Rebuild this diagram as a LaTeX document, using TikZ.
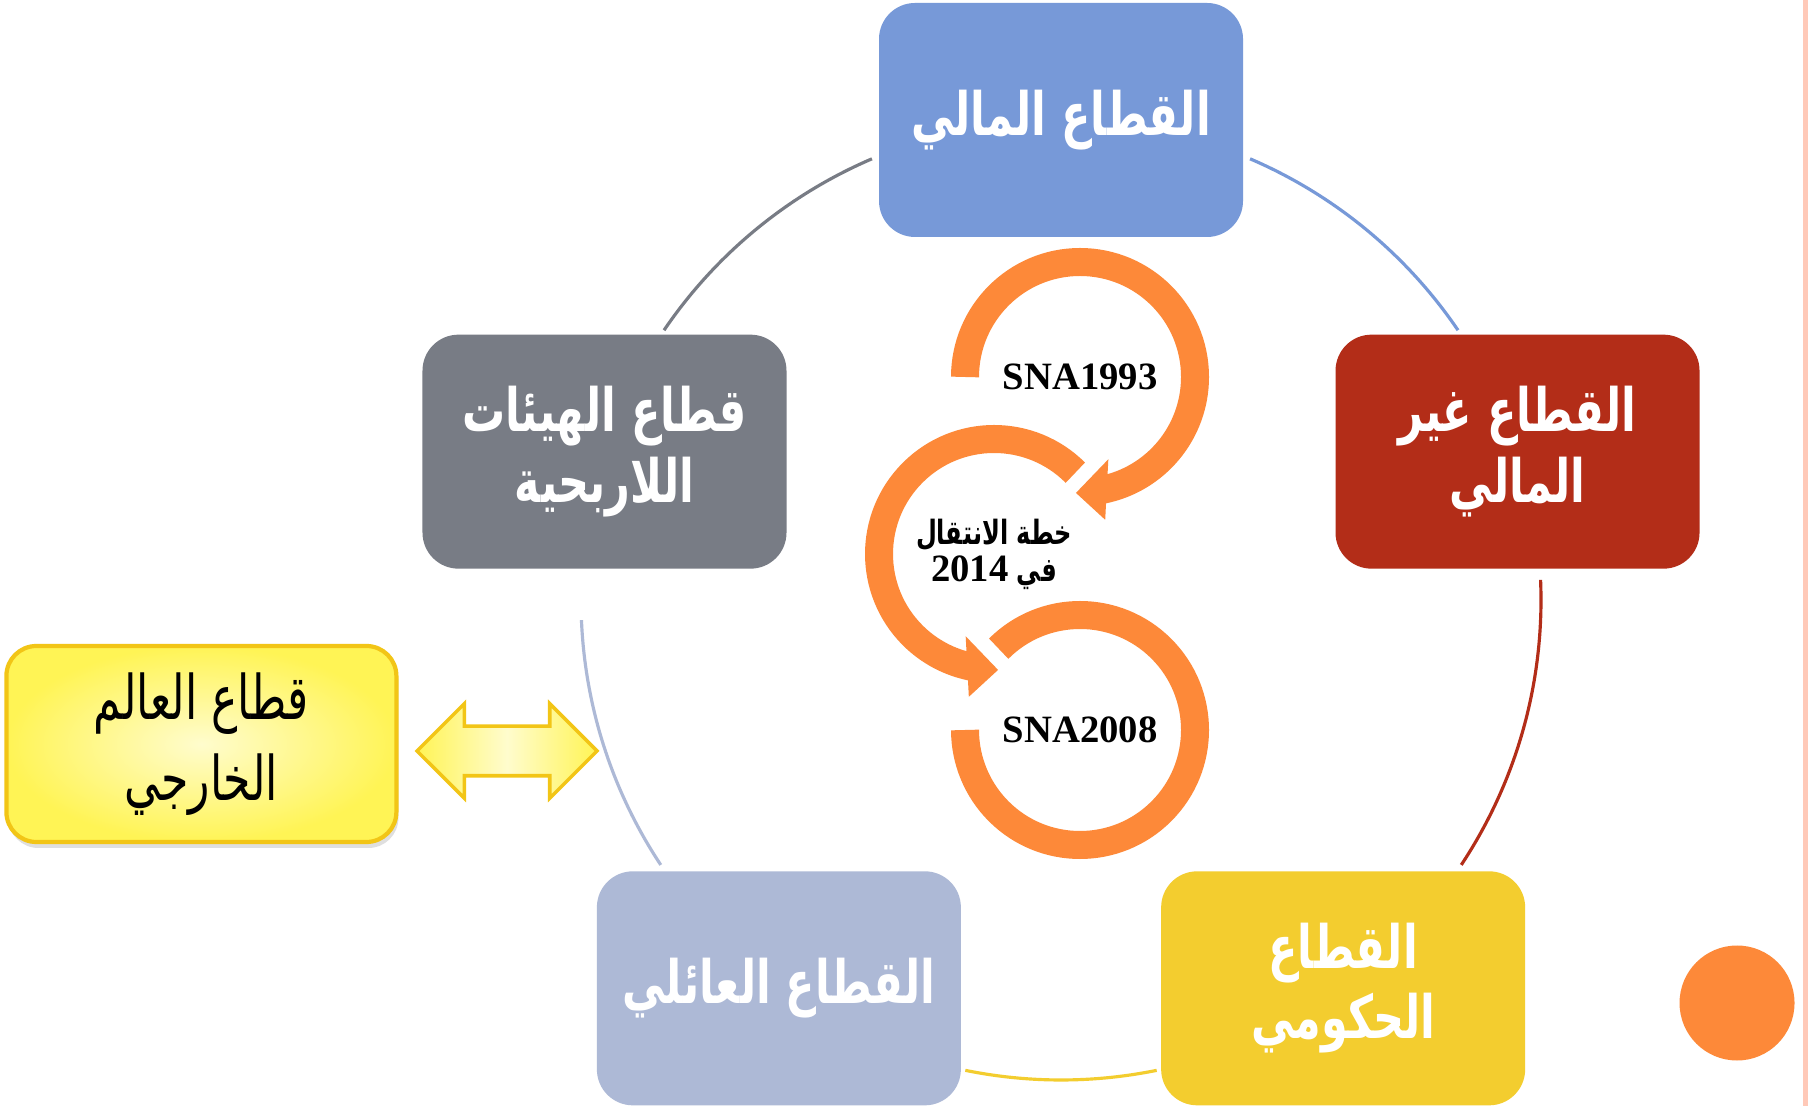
\documentclass[tikz,border=0pt]{standalone}
\usepackage{fontspec}
\setmainfont{Liberation Serif}
\newfontfamily\arabicfont[Script=Arabic, FakeStretch=0.72]{DejaVu Sans}
\TeXXeTstate=1
\usepackage{xcolor}
\definecolor{FINCOLOR}{RGB}{119,153,216}
\definecolor{NONFINCOLOR}{RGB}{179,45,24}
\definecolor{GOVCOLOR}{RGB}{243,205,47}
\definecolor{HHCOLOR}{RGB}{173,185,214}
\definecolor{NPISHCOLOR}{RGB}{120,124,133}
\definecolor{ROWCOLOR}{RGB}{255,244,85}
\definecolor{ROWLIGHTCOLOR}{RGB}{255,252,205}
\definecolor{ROWEDGECOLOR}{RGB}{242,197,22}
\definecolor{RINGCOLOR}{RGB}{253,137,57}
\definecolor{STRIPCOLOR}{RGB}{255,201,184}
\usepackage{tikz}
\usetikzlibrary{positioning,shapes.arrows,shadows}
\newcommand{\artext}[1]{\beginR #1\endR}
\tikzset{
  sector-style/.style = {
    rectangle, rounded corners=0.36cm, fill=#1,
    minimum width=3.64cm, minimum height=2.34cm,
    inner sep=2pt, align=center, text=white,
    font=\arabicfont\bfseries\fontsize{17}{20}\selectfont
  },
  fin-style/.style = {sector-style=FINCOLOR},
  nonfin-style/.style = {sector-style=NONFINCOLOR},
  gov-style/.style = {sector-style=GOVCOLOR},
  hh-style/.style = {sector-style=HHCOLOR},
  npish-style/.style = {sector-style=NPISHCOLOR},
  link-style/.style = {draw=#1, line width=0.9pt},
  ring-style/.style = {draw=RINGCOLOR, line width=0.28cm},
  head-style/.style = {fill=RINGCOLOR},
  sna-style/.style = {font=\bfseries\fontsize{11}{13}\selectfont},
  plan-style/.style = {align=center, font=\arabicfont\bfseries\fontsize{9.5}{10.5}\selectfont},
  row-style/.style = {
    rectangle, rounded corners=0.3cm, draw=ROWEDGECOLOR, line width=1.2pt,
    inner color=ROWLIGHTCOLOR, outer color=ROWCOLOR,
    minimum width=3.9cm, minimum height=1.96cm, align=center,
    font=\arabicfont\fontsize{17.5}{23}\selectfont,
    drop shadow={shadow xshift=0.02cm, shadow yshift=-0.06cm, opacity=0.25}
  },
  swap-style/.style = {
    double arrow, double arrow head extend=0.225cm,
    inner xsep=0pt, inner ysep=0.23cm, minimum height=1.8cm,
    draw=ROWEDGECOLOR, line width=1pt,
    left color=ROWCOLOR, right color=ROWCOLOR, middle color=ROWLIGHTCOLOR
  },
  dot-style/.style = {circle, fill=RINGCOLOR, minimum size=1.15cm, inner sep=0pt}
}

\begin{document}
\begin{tikzpicture}
    \path[use as bounding box, fill=white] (0,0) rectangle (18.08,11.06);
    \fill[STRIPCOLOR] (18.03,0) rectangle (18.08,11.06);

    %%% sectors on the cycle
    \coordinate (hub) at (10.61,5.06);
    \node[fin-style] (fin) at ([shift={(90:4.8)}]hub) {\artext{القطاع  المالي}};
    \node[nonfin-style] (nonfin) at ([shift={(18:4.8)}]hub) {\artext{القطاع غير}\\\artext{المالي}};
    \node[gov-style] (gov) at ([shift={(-54:4.8)}]hub) {\artext{القطاع}\\\artext{الحكومي}};
    \node[hh-style] (hh) at ([shift={(-126:4.8)}]hub) {\artext{القطاع العائلي}};
    \node[npish-style] (npish) at ([shift={(162:4.8)}]hub) {\artext{قطاع  الهيئات}\\\artext{اللاربحية}};

    %%% arcs
    % fin to nonfin
    \draw[link-style=FINCOLOR] ([shift={(66.8:4.8)}]hub) arc[start angle=66.8, end angle=34.2, radius=4.8];
    % nonfin to gov
    \draw[link-style=NONFINCOLOR] ([shift={(2.4:4.8)}]hub) arc[start angle=2.4, end angle=-33.5, radius=4.8];
    % gov to hh
    \draw[link-style=GOVCOLOR] ([shift={(-78.5:4.8)}]hub) arc[start angle=-78.5, end angle=-101.5, radius=4.8];
    % hh to npish
    \draw[link-style=HHCOLOR] ([shift={(-146.5:4.8)}]hub) arc[start angle=-146.5, end angle=-177.6, radius=4.8];
    % npish to fin
    \draw[link-style=NPISHCOLOR] ([shift={(145.8:4.8)}]hub) arc[start angle=145.8, end angle=113.2, radius=4.8];

    %%% transition rings
    \coordinate (r93) at (10.80,7.29);
    \coordinate (r14) at (9.94,5.52);
    \coordinate (r08) at (10.80,3.76);
    \draw[ring-style] ([shift={(180:1.15)}]r93) arc[start angle=180, end angle=-79, radius=1.15];
    \fill[head-style] ([shift={(-92:1.16)}]r93) -- ([shift={(-71:0.87)}]r93) -- ([shift={(-80:1.45)}]r93) -- cycle;
    \draw[ring-style] ([shift={(45:1.15)}]r14) arc[start angle=45, end angle=259, radius=1.15];
    \fill[head-style] ([shift={(-88:1.16)}]r14) -- ([shift={(-109:0.87)}]r14) -- ([shift={(-100:1.45)}]r14) -- cycle;
    \draw[ring-style] ([shift={(135:1.15)}]r08) arc[start angle=135, end angle=-180, radius=1.15];
    \node[sna-style] (sna93) at (r93) {SNA1993};
    \node[plan-style] (plan) at (r14) {\artext{خطة الانتقال}\\\artext{في \beginL{\rmfamily\fontsize{11}{11}\selectfont 2014}\endL}};
    \node[sna-style] (sna08) at (r08) {SNA2008};

    %%% rest of the world
    \node[swap-style] (swap) at (5.07,3.55) {};
    \node[row-style, left=0.16cm of swap, yshift=0.07cm] (row) {\artext{قطاع العالم}\\\artext{الخارجي}};

    \node[dot-style] (dot) at (17.37,1.03) {};
\end{tikzpicture}
\end{document}
